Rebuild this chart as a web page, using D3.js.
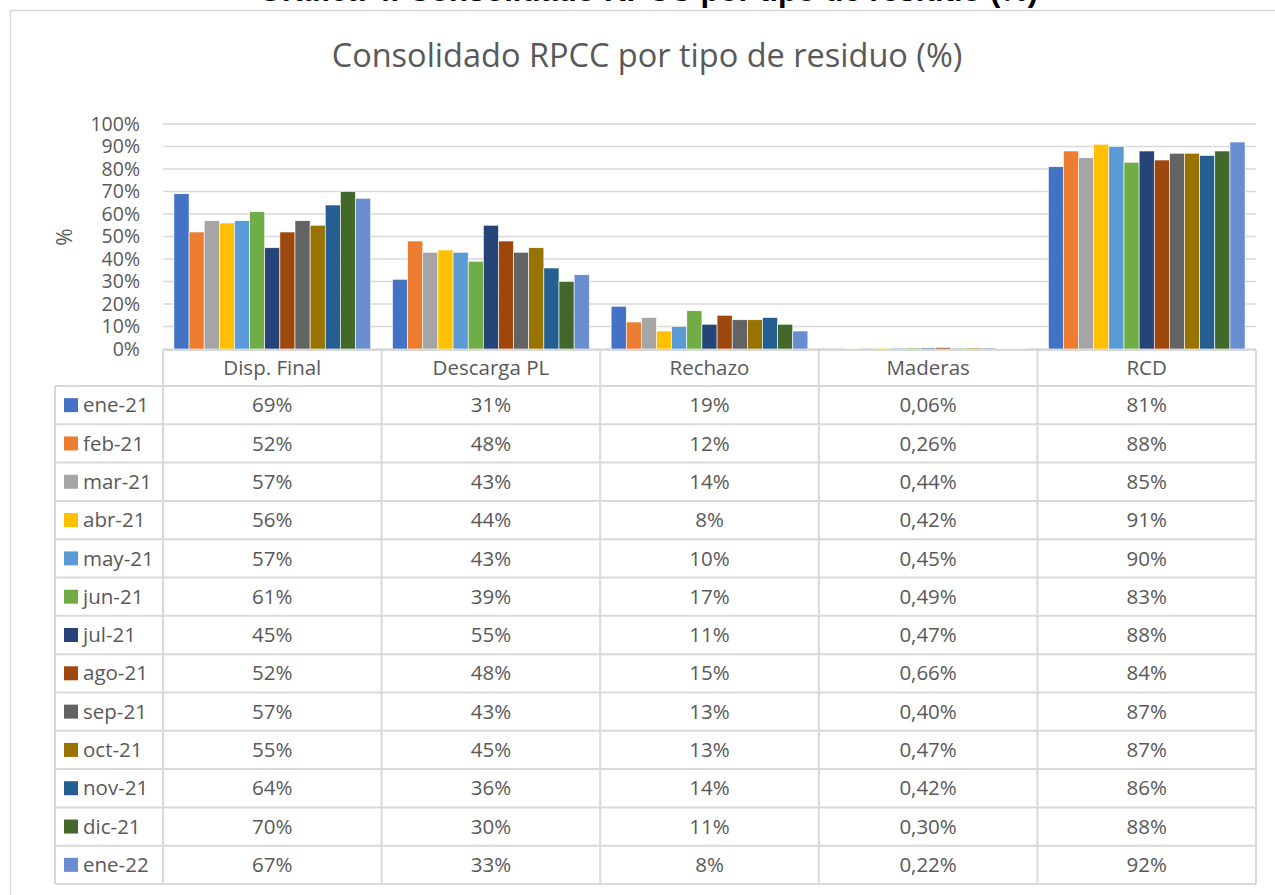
<!DOCTYPE html>
<html>
<head>
<meta charset="utf-8">
<script src="https://cdn.jsdelivr.net/npm/d3@7"></script>
<style>
  body { margin: 0; background: #fff; }
  svg { display: block; font-family: "Open Sans", sans-serif; }
</style>
</head>
<body>
<div id="chart"></div>
<script>
// data
const categories = ["Disp. Final", "Descarga PL", "Rechazo", "Maderas", "RCD"];
const months = ["ene-21", "feb-21", "mar-21", "abr-21", "may-21", "jun-21", "jul-21",
  "ago-21", "sep-21", "oct-21", "nov-21", "dic-21", "ene-22"];
const dispFinal = [69, 52, 57, 56, 57, 61, 45, 52, 57, 55, 64, 70, 67];
const descargaPL = [31, 48, 43, 44, 43, 39, 55, 48, 43, 45, 36, 30, 33];
const rechazo = [19, 12, 14, 8, 10, 17, 11, 15, 13, 13, 14, 11, 8];
const maderas = [0.06, 0.26, 0.44, 0.42, 0.45, 0.49, 0.47, 0.66, 0.40, 0.47, 0.42, 0.30, 0.22];
const rcd = [81, 88, 85, 91, 90, 83, 88, 84, 87, 87, 86, 88, 92];
const yTicks = [0, 10, 20, 30, 40, 50, 60, 70, 80, 90, 100];

const seriesByCat = [dispFinal, descargaPL, rechazo, maderas, rcd];
const colors = ["#4472C4", "#ED7D31", "#A5A5A5", "#FFC000", "#5B9BD5", "#70AD47", "#264478",
  "#9E480E", "#636363", "#997300", "#255E91", "#43682B", "#698ED0"];

const width = 1275, height = 895;
const textColor = "#595959";
const gridColor = "#D9D9D9";

const svg = d3.select("#chart").append("svg")
  .attr("width", width)
  .attr("height", height);

svg.append("rect").attr("width", width).attr("height", height).attr("fill", "#fff");

// outer chart border
svg.append("rect")
  .attr("x", 10.5).attr("y", 10.5)
  .attr("width", width).attr("height", height)
  .attr("fill", "none").attr("stroke", gridColor).attr("stroke-width", 1.5);

// cut-off caption above the chart
svg.append("text")
  .attr("x", 648).attr("y", 1)
  .attr("text-anchor", "middle")
  .style("font-family", "'Liberation Sans', Arial, sans-serif")
  .style("font-weight", "bold")
  .style("font-size", "31px")
  .attr("fill", "#000")
  .text("Gráfica 4. Consolidado RPCC por tipo de residuo (%)");

// title
svg.append("text")
  .attr("x", 647).attr("y", 67)
  .attr("text-anchor", "middle")
  .style("font-size", "32.5px")
  .attr("fill", textColor)
  .text("Consolidado RPCC por tipo de residuo (%)");

// scales
const x0 = d3.scaleBand().domain(categories).range([163, 1256]);
const x1 = d3.scaleBand().domain(months)
  .range([x0.bandwidth() * 0.05, x0.bandwidth() * 0.95]);
const y = d3.scaleLinear().domain([0, 100]).range([349, 124]);

// gridlines
svg.append("g")
  .selectAll("line")
  .data(yTicks)
  .join("line")
  .attr("x1", 163).attr("x2", 1256)
  .attr("y1", d => y(d)).attr("y2", d => y(d))
  .attr("stroke", gridColor).attr("stroke-width", 1.5);

// y axis
const yAxis = svg.append("g")
  .attr("transform", "translate(163,0)")
  .call(d3.axisLeft(y).tickValues(yTicks).tickSize(0).tickPadding(23).tickFormat(d => d + "%"));
yAxis.select(".domain").remove();
yAxis.selectAll("text")
  .style("font-size", "19.5px")
  .style("font-family", "'Open Sans', sans-serif")
  .attr("fill", textColor);

svg.append("text")
  .attr("transform", "translate(72,237) rotate(-90)")
  .attr("text-anchor", "middle")
  .style("font-size", "21px")
  .attr("fill", textColor)
  .text("%");

// bars
const groups = svg.append("g")
  .selectAll("g")
  .data(categories)
  .join("g")
  .attr("transform", d => `translate(${x0(d)},0)`);

groups.selectAll("rect")
  .data((c, i) => months.map((m, j) => ({ month: m, value: seriesByCat[i][j], idx: j })))
  .join("rect")
  .attr("x", d => x1(d.month))
  .attr("width", x1.bandwidth())
  .attr("y", d => y(d.value))
  .attr("height", d => y(0) - y(d.value))
  .attr("fill", d => colors[d.idx])
  .attr("stroke", "#fff")
  .attr("stroke-width", 0.6);

// data table
const headTop = 350, headBottom = 386;
const row = d3.scaleBand().domain(months).range([headBottom, 884]);
const table = svg.append("g");
const colEdges = categories.map(c => x0(c)).concat([x0.range()[1]]);

table.selectAll(".vline")
  .data(colEdges)
  .join("line")
  .attr("x1", d => d).attr("x2", d => d)
  .attr("y1", headTop).attr("y2", 884)
  .attr("stroke", gridColor).attr("stroke-width", 2);

table.append("line")
  .attr("x1", 55).attr("x2", 55)
  .attr("y1", headBottom).attr("y2", 884)
  .attr("stroke", gridColor).attr("stroke-width", 2);

table.append("line")
  .attr("x1", 163).attr("x2", 1256)
  .attr("y1", headTop).attr("y2", headTop)
  .attr("stroke", gridColor).attr("stroke-width", 2);

table.selectAll(".hline")
  .data(months.map(m => row(m)).concat([884]))
  .join("line")
  .attr("x1", 55).attr("x2", 1256)
  .attr("y1", d => d).attr("y2", d => d)
  .attr("stroke", gridColor).attr("stroke-width", 2);

// header
table.selectAll(".head")
  .data(categories)
  .join("text")
  .attr("x", d => x0(d) + x0.bandwidth() / 2)
  .attr("y", (headTop + headBottom) / 2)
  .attr("dy", "0.35em")
  .attr("text-anchor", "middle")
  .style("font-size", "20.5px")
  .attr("fill", textColor)
  .text(d => d);

// legend column
const legend = table.selectAll(".leg")
  .data(months)
  .join("g")
  .attr("transform", d => `translate(0,${row(d) + row.bandwidth() / 2})`);

legend.append("rect")
  .attr("x", 64).attr("y", -7)
  .attr("width", 14).attr("height", 14)
  .attr("fill", (d, i) => colors[i]);

legend.append("text")
  .attr("x", 83)
  .attr("dy", "0.35em")
  .style("font-size", "20.5px")
  .attr("fill", textColor)
  .text(d => d);

// values
const fmt = (v, c) => c === "Maderas" ? v.toFixed(2).replace(".", ",") + "%" : v + "%";

categories.forEach((c, i) => {
  table.append("g")
    .selectAll("text")
    .data(seriesByCat[i])
    .join("text")
    .attr("x", x0(c) + x0.bandwidth() / 2)
    .attr("y", (d, j) => row(months[j]) + row.bandwidth() / 2)
    .attr("dy", "0.35em")
    .attr("text-anchor", "middle")
    .style("font-size", "20.5px")
    .attr("fill", textColor)
    .text(d => fmt(d, c));
});
</script>
</body>
</html>
